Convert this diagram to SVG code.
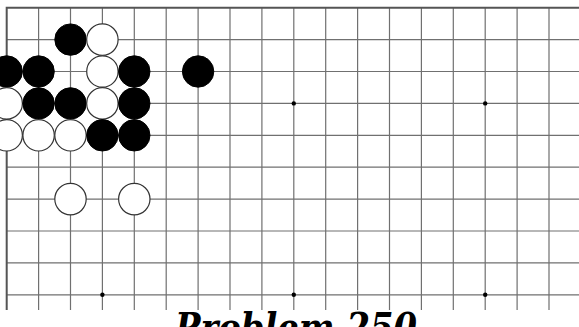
<svg xmlns="http://www.w3.org/2000/svg" width="579" height="327" viewBox="0 0 579 327">
<style>
.g{stroke:#707070;stroke-width:1.2;fill:none}
.e{stroke:#555;stroke-width:2;fill:none}
.b{fill:#000;stroke:#000;stroke-width:1}
.w{fill:#fff;stroke:#333;stroke-width:1.2}
.s{fill:#000}
.t{font-family:"DejaVu Serif",serif;font-weight:bold;font-style:italic;font-size:40px;fill:#000}
</style>
<rect width="579" height="327" fill="#fff"/>
<g id="grid">
<path class="g" d="M6.7 39.6H579M6.7 71.5H579M6.7 103.4H579M6.7 135.3H579M6.7 167.2H579M6.7 199.1H579M6.7 231H579M6.7 262.9H579M6.7 294.8H579"/>
<path class="g" d="M38.6 7.7V310M70.5 7.7V310M102.4 7.7V310M134.3 7.7V310M166.2 7.7V310M198.1 7.7V310M230 7.7V310M261.9 7.7V310M293.8 7.7V310M325.7 7.7V310M357.6 7.7V310M389.5 7.7V310M421.4 7.7V310M453.3 7.7V310M485.2 7.7V310M517.1 7.7V310M549 7.7V310"/>
<path class="e" d="M6.7 310V7.7H579"/>
<circle class="s" cx="102.4" cy="294.8" r="2.2"/>
<circle class="s" cx="293.8" cy="294.8" r="2.2"/>
<circle class="s" cx="485.2" cy="294.8" r="2.2"/>
<circle class="s" cx="293.8" cy="103.4" r="2.2"/>
<circle class="s" cx="485.2" cy="103.4" r="2.2"/>
</g>
<g id="stones">
<circle class="b" cx="70.5" cy="39.6" r="15.7"/>
<circle class="w" cx="102.4" cy="39.6" r="15.7"/>
<circle class="b" cx="6.7" cy="71.5" r="15.7"/>
<circle class="b" cx="38.6" cy="71.5" r="15.7"/>
<circle class="w" cx="102.4" cy="71.5" r="15.7"/>
<circle class="b" cx="134.3" cy="71.5" r="15.7"/>
<circle class="b" cx="198.1" cy="71.5" r="15.7"/>
<circle class="w" cx="6.7" cy="103.4" r="15.7"/>
<circle class="b" cx="38.6" cy="103.4" r="15.7"/>
<circle class="b" cx="70.5" cy="103.4" r="15.7"/>
<circle class="w" cx="102.4" cy="103.4" r="15.7"/>
<circle class="b" cx="134.3" cy="103.4" r="15.7"/>
<circle class="w" cx="6.7" cy="135.3" r="15.7"/>
<circle class="w" cx="38.6" cy="135.3" r="15.7"/>
<circle class="w" cx="70.5" cy="135.3" r="15.7"/>
<circle class="b" cx="102.4" cy="135.3" r="15.7"/>
<circle class="b" cx="134.3" cy="135.3" r="15.7"/>
<circle class="w" cx="70.5" cy="199.1" r="15.7"/>
<circle class="w" cx="134.3" cy="199.1" r="15.7"/>
</g>
<text class="t" x="296" y="341" text-anchor="middle" textLength="242" lengthAdjust="spacingAndGlyphs">Problem 250</text>
</svg>
